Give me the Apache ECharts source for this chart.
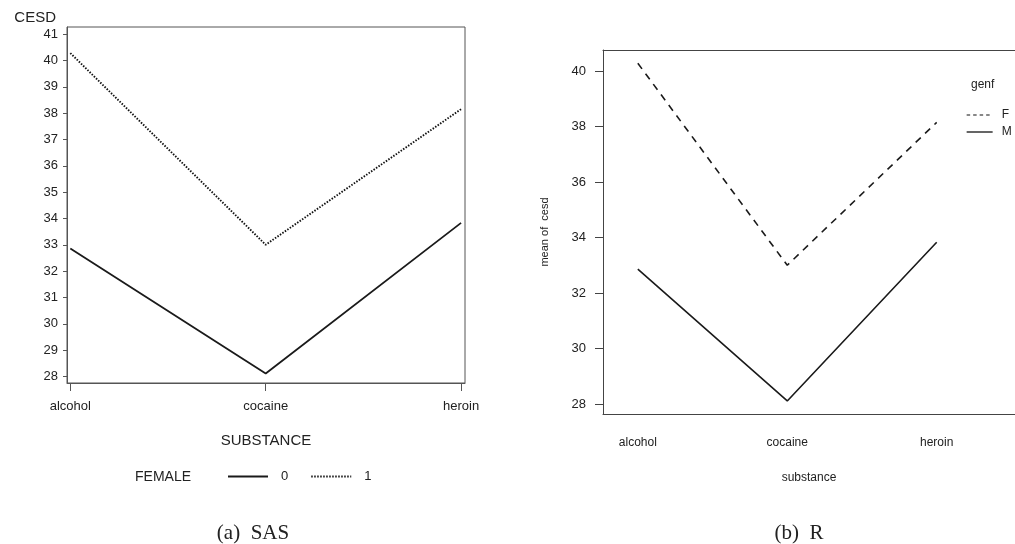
<!DOCTYPE html>
<html>
<head>
<meta charset="utf-8">
<script src="https://cdn.jsdelivr.net/npm/echarts@6/dist/echarts.min.js"></script>
<style>
html,body{margin:0;padding:0;background:#fff;}
#chart{width:1015px;height:544px;}
</style>
</head>
<body>
<div id="chart"></div>
<script>
// Data
const substances = ['alcohol', 'cocaine', 'heroin'];
const femaleMeans = [40.28, 33.00, 38.15];
const maleMeans = [32.86, 28.11, 33.83];
const sasYTicks = [28, 29, 30, 31, 32, 33, 34, 35, 36, 37, 38, 39, 40, 41];
const rYTicks = [28, 30, 32, 34, 36, 38, 40];
const sasPos = [0, 1, 2];
const rPos = [1, 2, 3];

const font = 'Liberation Sans, Arial, sans-serif';
const txt = '#222';

function pairs(xs, ys) { return xs.map((x, i) => [x, ys[i]]); }

const chart = echarts.init(document.getElementById('chart'), null, {renderer: 'canvas'});

const hiddenSymbol = {color: 'transparent', borderColor: 'transparent', borderWidth: 0, opacity: 0};

const option = {
  backgroundColor: '#fff',
  animation: false,
  textStyle: {fontFamily: font, color: txt},
  title: [
    {text: '(a)  SAS', left: 248, top: 518, textAlign: 'center',
     textStyle: {fontFamily: 'Liberation Serif, serif', fontWeight: 'normal', fontSize: 21, color: '#222'}},
    {text: '(b)  R', left: 794, top: 518, textAlign: 'center',
     textStyle: {fontFamily: 'Liberation Serif, serif', fontWeight: 'normal', fontSize: 21, color: '#222'}},
    {text: 'FEMALE', left: 130, top: 465,
     textStyle: {fontFamily: font, fontWeight: 'normal', fontSize: 14, color: txt}},
    {text: 'genf', left: 966, top: 74,
     textStyle: {fontFamily: font, fontWeight: 'normal', fontSize: 12, color: txt}}
  ],
  legend: [
    {
      data: ['0', '1'], left: 222, top: 465, orient: 'horizontal',
      itemWidth: 40, itemHeight: 14, itemGap: 22,
      itemStyle: hiddenSymbol,
      textStyle: {fontFamily: font, fontSize: 13, color: txt, padding: [0, 0, 0, 8]},
      selectedMode: false
    },
    {
      data: [
        {name: 'F', lineStyle: {type: [3.5, 3], width: 1.1, color: '#111'}},
        {name: 'M', lineStyle: {width: 1.3, color: '#111'}}
      ],
      left: 961, top: 104, orient: 'vertical',
      itemWidth: 26, itemHeight: 14, itemGap: 5,
      itemStyle: hiddenSymbol,
      textStyle: {fontFamily: font, fontSize: 12, color: txt, padding: [0, 0, 0, 4]},
      selectedMode: false
    }
  ],
  grid: [
    {left: 67, top: 27, width: 398, height: 356, show: true, borderColor: '#555', borderWidth: 1, backgroundColor: 'transparent'},
    {left: 603, top: 50, width: 413, height: 364, show: false}
  ],
  xAxis: [
    {
      gridIndex: 0, type: 'value', min: -0.017, max: 2.02,
      splitLine: {show: false},
      axisLine: {show: true, onZero: false, lineStyle: {color: '#555'}},
      axisTick: {show: true, length: 8, customValues: sasPos, lineStyle: {color: '#555'}},
      axisLabel: {customValues: sasPos, formatter: v => substances[Math.round(v)], margin: 17,
                  fontSize: 13, color: txt, fontFamily: font},
      name: 'SUBSTANCE', nameLocation: 'middle', nameGap: 50,
      nameTextStyle: {fontSize: 15, color: txt, fontFamily: font}
    },
    {
      gridIndex: 1, type: 'value', min: 0.767, max: 3.524,
      splitLine: {show: false},
      axisLine: {show: true, onZero: false, lineStyle: {color: '#444'}},
      axisTick: {show: false},
      axisLabel: {customValues: rPos, formatter: v => substances[Math.round(v) - 1], margin: 23,
                  fontSize: 12, color: txt, fontFamily: font},
      name: 'substance', nameLocation: 'middle', nameGap: 58,
      nameTextStyle: {fontSize: 12, color: txt, fontFamily: font}
    },
    {
      gridIndex: 1, type: 'value', min: 0.767, max: 3.524, position: 'top',
      splitLine: {show: false},
      axisLine: {show: true, onZero: false, lineStyle: {color: '#444'}},
      axisTick: {show: false},
      axisLabel: {show: false}
    }
  ],
  yAxis: [
    {
      gridIndex: 0, type: 'value', min: 27.75, max: 41.27,
      splitLine: {show: false},
      axisLine: {show: true, onZero: false, lineStyle: {color: '#555'}},
      axisTick: {show: true, length: 4, customValues: sasYTicks, lineStyle: {color: '#555'}},
      axisLabel: {customValues: sasYTicks, margin: 9, fontSize: 13, color: txt, fontFamily: font},
      name: 'CESD', nameLocation: 'end', nameGap: 2,
      nameTextStyle: {fontSize: 15, color: txt, fontFamily: font, align: 'right', padding: [0, 11, 0, 0]}
    },
    {
      gridIndex: 1, type: 'value', min: 27.64, max: 40.757,
      splitLine: {show: false},
      axisLine: {show: true, onZero: false, lineStyle: {color: '#444'}},
      axisTick: {show: true, length: 8, customValues: rYTicks, lineStyle: {color: '#444'}},
      axisLabel: {customValues: rYTicks, margin: 17, fontSize: 13, color: txt, fontFamily: font},
      name: 'mean of  cesd', nameLocation: 'middle', nameGap: 53, nameRotate: 90,
      nameTextStyle: {fontSize: 11, color: txt, fontFamily: font}
    }
  ],
  series: [
    {name: '0', type: 'line', xAxisIndex: 0, yAxisIndex: 0, data: pairs(sasPos, maleMeans),
     symbol: 'none', lineStyle: {color: '#1a1a1a', width: 1.8, type: 'solid'}, itemStyle: {color: '#1a1a1a'}},
    {name: '1', type: 'line', xAxisIndex: 0, yAxisIndex: 0, data: pairs(sasPos, femaleMeans),
     symbol: 'none', lineStyle: {color: '#111', width: 1.9, type: [1.5, 1.5]}, itemStyle: {color: '#111'}},
    {name: 'F', type: 'line', xAxisIndex: 1, yAxisIndex: 1, data: pairs(rPos, femaleMeans),
     symbol: 'none', lineStyle: {color: '#1a1a1a', width: 1.6, type: [7, 6]}, itemStyle: {color: '#1a1a1a'}},
    {name: 'M', type: 'line', xAxisIndex: 1, yAxisIndex: 1, data: pairs(rPos, maleMeans),
     symbol: 'none', lineStyle: {color: '#1a1a1a', width: 1.6, type: 'solid'}, itemStyle: {color: '#1a1a1a'}}
  ]
};
chart.setOption(option);
</script>
</body>
</html>
